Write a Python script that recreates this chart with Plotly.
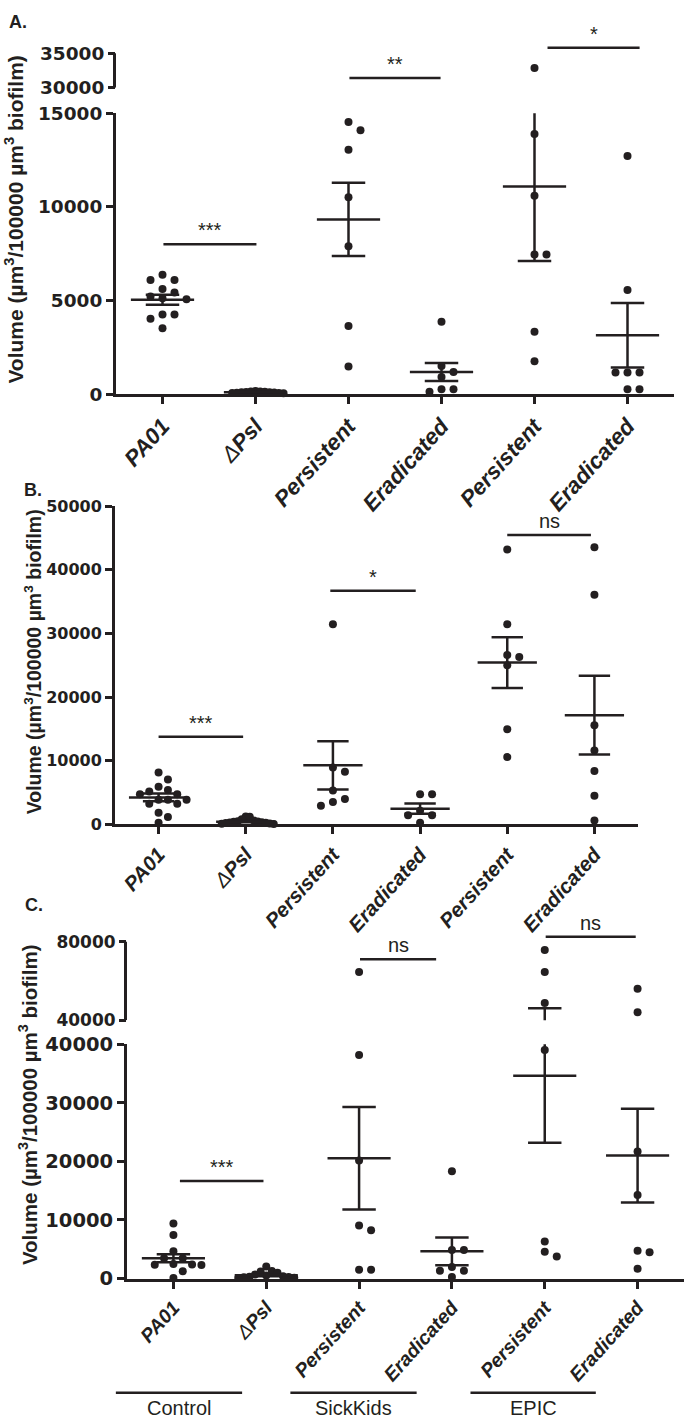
import plotly.graph_objects as go

W, H = 685, 1427
INK = "#231f20"
NUM_FONT = "DejaVu Sans, Liberation Sans, Arial, sans-serif"
TXT_FONT = "Liberation Sans, Arial, sans-serif"
NARROW_FONT = "Liberation Sans Narrow, Arial Narrow, Liberation Sans, Arial, sans-serif"

categories = ["PA01", "ΔPsl", "Persistent", "Eradicated", "Persistent", "Eradicated"]
tick_labels = ["PA01", "<span style='font-weight:normal'>Δ</span>Psl", "Persistent",
               "Eradicated", "Persistent", "Eradicated"]
groups = ["Control", "SickKids", "EPIC"]
y_title = "Volume (µm<sup>3</sup>/100000 µm<sup>3</sup> biofilm)"

# ---------------- Panel A ----------------
a_pa01 = [6380, 6090, 6090, 5610, 5420, 5210, 5120, 5070, 4250, 4250, 4020, 3510]
a_dpsl = [160, 140, 130, 120, 110, 100, 90, 80, 70, 60, 50, 40]
a_pers_sk = [14540, 14100, 13050, 10510, 7900, 3630, 1470]
a_erad_sk = [3860, 1500, 1180, 910, 260, 260, 120]
a_pers_epic = [32860, 13900, 10600, 7450, 7450, 3330, 1750]
a_erad_epic = [12720, 5560, 1150, 1150, 1150, 260, 260]
a_mean = [5035, 90, 9330, 1175, 11090, 3140]
a_sem = [265, 15, 1955, 480, 3985, 1725]
a_sig = [(0.01, 1.01, 8000, "***"), (2.01, 2.99, 31400, "**"), (4.14, 5.13, 35800, "*")]
a_lower_ticks = [0, 5000, 10000, 15000]
a_upper_ticks = [30000, 35000]

# ---------------- Panel B ----------------
b_pa01 = [8150, 7060, 5930, 5410, 5160, 4750, 4750, 3860, 3860, 3860, 3250, 3250, 1810, 1140, 260]
b_dpsl = [1250, 1200, 800, 600, 500, 450, 400, 350, 300, 250, 200, 150, 100, 50]
b_pers_sk = [31440, 8920, 8250, 5320, 3970, 3510, 2940]
b_erad_sk = [4750, 4750, 2160, 1450, 1450, 260]
b_pers_epic = [43180, 31440, 26600, 26300, 25000, 14950, 10570]
b_erad_epic = [43540, 36070, 15560, 11590, 8400, 4480, 620]
b_mean = [4235, 420, 9270, 2470, 25410, 17160]
b_sem = [600, 100, 3790, 800, 3990, 6185]
b_sig = [(0.0, 0.97, 13760, "***"), (1.97, 2.95, 36690, "*"), (4.0, 4.96, 45440, "ns")]
b_ticks = [0, 10000, 20000, 30000, 40000, 50000]

# ---------------- Panel C ----------------
c_pa01 = [9410, 7440, 4640, 3470, 3470, 2500, 2400, 2350, 2300, 1230, 80]
c_dpsl = [2050, 1300, 1200, 1000, 700, 500, 400, 300, 250, 200, 150, 100]
c_pers_sk = [64600, 38200, 20170, 9070, 8240, 1510, 1510]
c_erad_sk = [18320, 4870, 4870, 1950, 1340, 1340, 270]
c_pers_epic = [75830, 64600, 48730, 39040, 6320, 4590, 3750]
c_erad_epic = [55970, 44080, 21680, 14290, 4760, 4470, 1680]
c_mean = [3466, 550, 20550, 4640, 34620, 21010]
c_sem = [700, 150, 8765, 2355, 11430, 8010]
c_sig = [(0.07, 0.97, 16640, "***"), (2.01, 2.83, 71120, "ns"), (4.01, 4.98, 82500, "ns")]
c_lower_ticks = [0, 10000, 20000, 30000, 40000]
c_upper_ticks = [40000, 80000]
c_group_spans = [(-0.62, 0.74), (1.26, 2.62), (3.2, 4.55)]

panels = [
    dict(label="A.", label_px=(18, 11), points=[a_pa01, a_dpsl, a_pers_sk, a_erad_sk, a_pers_epic, a_erad_epic],
         mean=a_mean, sem=a_sem, sig=a_sig, x_px=(116, 674), title_px=(14, 212), title_size=21, xtick_size=22.5,
         segs=[dict(rng=(0, 15000), px=(389.3, 104), ticks=a_lower_ticks, tsize=18.5, line_top=None),
               dict(rng=(30000, 37000), px=(78, 29), ticks=a_upper_ticks, tsize=18.5, line_top=35000)]),
    dict(label="B.", label_px=(33, 487), points=[b_pa01, b_dpsl, b_pers_sk, b_erad_sk, b_pers_epic, b_erad_epic],
         mean=b_mean, sem=b_sem, sig=b_sig, x_px=(115, 638), title_px=(33, 662), title_size=19.5, xtick_size=20.5,
         segs=[dict(rng=(0, 50000), px=(826.7, 503.2), ticks=b_ticks, tsize=16, line_top=None)]),
    dict(label="C.", label_px=(34, 909), points=[c_pa01, c_dpsl, c_pers_sk, c_erad_sk, c_pers_epic, c_erad_epic],
         mean=c_mean, sem=c_sem, sig=c_sig, x_px=(127, 684), title_px=(28, 1112), title_size=20.5, xtick_size=19.5,
         segs=[dict(rng=(0, 40000), px=(1288.3, 1050.3), ticks=c_lower_ticks, tsize=19.5, line_top=None),
               dict(rng=(40000, 92000), px=(1025.7, 922.1), ticks=c_upper_ticks, tsize=17, line_top=80000)]),
]


def swarm(values, px_per_unit, px_per_cat, dot_px=9.0, step_px=12.0, max_half_px=28.0):
    """Beeswarm-style horizontal offsets (category units) for overlapping dots."""
    order = sorted(range(len(values)), key=lambda i: -values[i])
    slots = [0] * len(values)
    placed = []
    cand = [0]
    for j in range(1, 40):
        cand += [j, -j]
    for i in order:
        y = values[i] * px_per_unit
        for c in cand:
            if all(not (sc == c and abs(py - y) < dot_px) for sc, py in placed):
                break
        slots[i] = c
        placed.append((c, y))
    mx = max([abs(s) for s in slots] + [0])
    step = step_px if mx == 0 else min(step_px, max_half_px / mx)
    return [s * step / px_per_cat for s in slots]


fig = go.Figure()
layout = dict(width=W, height=H, margin=dict(l=0, r=0, t=0, b=0), paper_bgcolor="white",
              plot_bgcolor="rgba(0,0,0,0)", showlegend=False)
shapes, annotations = [], []

CAP, HALF = 0.18, 0.34
n = 0
for p in panels:
    ppc = (p["x_px"][1] - p["x_px"][0]) / len(categories)
    for si, seg in enumerate(p["segs"]):
        n += 1
        xa, ya = ("x", "y") if n == 1 else (f"x{n}", f"y{n}")
        xkey, ykey = ("xaxis", "yaxis") if n == 1 else (f"xaxis{n}", f"yaxis{n}")
        lower = si == 0
        r0, r1 = seg["rng"]
        ppu = (seg["px"][0] - seg["px"][1]) / (r1 - r0)

        xaxis = dict(domain=[p["x_px"][0] / W, p["x_px"][1] / W], range=[-0.5, 5.5], anchor=ya,
                     showgrid=False, zeroline=False, fixedrange=True)
        if lower:
            xaxis.update(showline=True, linewidth=3, linecolor=INK, ticks="outside", ticklen=7,
                         tickwidth=3, tickcolor=INK, tickmode="array", tickvals=list(range(6)),
                         ticktext=tick_labels, tickangle=-48,
                         tickfont=dict(family=TXT_FONT, size=p["xtick_size"], color=INK,
                                       weight="bold", style="italic"))
        else:
            xaxis.update(visible=False)
        layout[xkey] = xaxis
        layout[ykey] = dict(domain=[1 - seg["px"][0] / H, 1 - seg["px"][1] / H], range=[r0, r1],
                            anchor=xa, showgrid=False, zeroline=False, fixedrange=True,
                            tickmode="array", tickvals=seg["ticks"], tickformat="d",
                            ticks="outside", ticklen=7, tickwidth=3, tickcolor=INK,
                            tickfont=dict(family=NUM_FONT, size=seg["tsize"], color=INK, weight="bold"),
                            showline=lower, linewidth=3, linecolor=INK)
        if not lower:
            xline = (p["x_px"][0] - 1.5) / W
            shapes.append(dict(type="line", xref="paper", yref=ya, x0=xline, x1=xline,
                               y0=r0, y1=seg["line_top"], line=dict(color=INK, width=3)))

        # dots
        xs, ys = [], []
        for ci, vals in enumerate(p["points"]):
            if lower:
                sv = [v for v in vals if v <= r1]
            else:
                sv = [v for v in vals if v > p["segs"][0]["rng"][1]]
            offs = swarm(sv, ppu, ppc)
            xs += [ci + o for o in offs]
            ys += sv
        fig.add_trace(go.Scatter(x=xs, y=ys, xaxis=xa, yaxis=ya, mode="markers",
                                 marker=dict(size=8, color=INK, line=dict(width=0)),
                                 cliponaxis=False, hoverinfo="skip"))

        # mean +/- SEM
        lx, ly = [], []
        for ci, (m, s) in enumerate(zip(p["mean"], p["sem"])):
            lo, hi = m - s, m + s
            lx += [ci, ci, None, ci - CAP, ci + CAP, None, ci - CAP, ci + CAP, None]
            ly += [lo, hi, None, lo, lo, None, hi, hi, None]
            lx += [ci - HALF, ci + HALF, None]
            ly += [m, m, None]
        fig.add_trace(go.Scatter(x=lx, y=ly, xaxis=xa, yaxis=ya, mode="lines",
                                 line=dict(color=INK, width=2.5), hoverinfo="skip"))

        # significance bars belonging to this segment
        for (x0, x1, yv, txt) in p["sig"]:
            if r0 <= yv <= r1:
                shapes.append(dict(type="line", xref=xa, yref=ya, x0=x0, x1=x1, y0=yv, y1=yv,
                                   line=dict(color=INK, width=2.5)))
                annotations.append(dict(xref=xa, yref=ya, x=(x0 + x1) / 2, y=yv, text=txt,
                                        showarrow=False, yanchor="bottom", yshift=1,
                                        font=dict(family=NARROW_FONT, size=20, color=INK)))

    # panel letter and y title
    annotations.append(dict(xref="paper", yref="paper", x=p["label_px"][0] / W, y=1 - p["label_px"][1] / H,
                            text=p["label"], showarrow=False, xanchor="center", yanchor="middle",
                            font=dict(family=TXT_FONT, size=18, color=INK, weight="bold")))
    annotations.append(dict(xref="paper", yref="paper", x=p["title_px"][0] / W, y=1 - p["title_px"][1] / H,
                            text=y_title, textangle=-90, showarrow=False, xanchor="center",
                            yanchor="middle",
                            font=dict(family=TXT_FONT, size=p["title_size"], color=INK, weight="bold")))

# group brackets under panel C
for (g0, g1), name in zip(c_group_spans, groups):
    shapes.append(dict(type="line", xref="x4 domain", yref="paper",
                       x0=(g0 + 0.5) / 6, x1=(g1 + 0.5) / 6, y0=1 - 1404.5 / H, y1=1 - 1404.5 / H,
                       line=dict(color=INK, width=2.5)))
    annotations.append(dict(xref="x4", yref="paper", x=(g0 + g1) / 2, y=1 - 1407 / H, text=name,
                            showarrow=False, xanchor="center", yanchor="top",
                            font=dict(family=TXT_FONT, size=20, color=INK)))

layout["shapes"] = shapes
layout["annotations"] = annotations
fig.update_layout(**layout)
fig.write_html("out.html", config={"displayModeBar": False},
               post_script=("document.documentElement.style.margin='0';"
                            "document.body.style.margin='0';document.body.style.padding='0';"
                            "document.documentElement.style.overflow='hidden';"
                            "document.body.style.overflow='hidden';"))
